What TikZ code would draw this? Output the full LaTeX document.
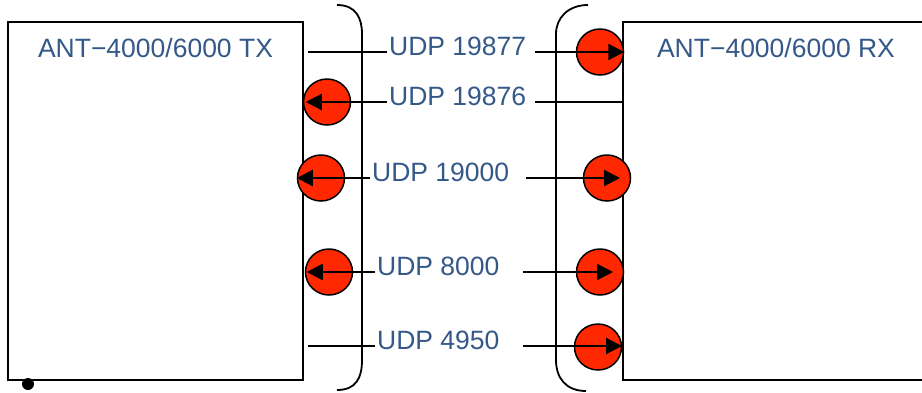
\documentclass[tikz,border=0pt]{standalone}
\usepackage{fontspec}
\setmainfont{Liberation Sans}
\usetikzlibrary{shapes.geometric,arrows.meta,calc}
\definecolor{udpblue}{RGB}{52,88,135}
\definecolor{portred}{RGB}{255,40,0}

\begin{document}
\begin{tikzpicture}[x=1pt,y=-1pt]
  \tikzstyle{box} = [rectangle,draw=black,line width=2pt,inner sep=0pt]
  \tikzstyle{devname} = [font=\fontsize{26.5}{30}\selectfont,color=udpblue,anchor=base]
  \tikzstyle{udp} = [font=\fontsize{26.5}{30}\selectfont,color=udpblue,anchor=west,
  inner sep=2pt,text height=10pt,text depth=4pt]
  \tikzstyle{port} = [ellipse,draw=black,fill=portred,line width=1.5pt,
  minimum width=47pt,minimum height=46pt,inner sep=0pt]
  \tikzstyle{wire} = [line width=2.2pt]
  \tikzstyle{ref} = [wire,-{Triangle[length=16pt,width=16pt]}]
  \tikzstyle{bracket} = [line width=1.8pt]

  \useasboundingbox (0,0) rectangle (922,392);

  % the two devices
  \node[box,minimum width=295pt,minimum height=358pt] (tx) at (155.5,201) {};
  \node[box,minimum width=320pt,minimum height=358pt] (rx) at (783,201) {};
  \node[devname] (txname) at (155.5,57) {ANT−4000/6000 TX};
  \node[devname] (rxname) at (776,57) {ANT−4000/6000 RX};
  \node[circle,fill=black,minimum size=12pt,inner sep=0pt] (dot) at (28,384) {};

  % brackets
  \draw[bracket] (337,5) .. controls (356,5) and (362,18) .. (362,34)
  -- (362,360) .. controls (362,378) and (356,390) .. (337,390);
  \draw[bracket] (588,5) .. controls (568,5) and (556,18) .. (556,34)
  -- (556,360) .. controls (556,378) and (566,391) .. (586,391);

  % ports
  \node[port] (r1) at (600,52) {};
  \node[port] (l2) at (327,102) {};
  \node[port] (l3) at (321,178) {};
  \node[port] (r3) at (607,178) {};
  \node[port] (l4) at (329,272) {};
  \node[port] (r4) at (600,272) {};
  \node[port] (r5) at (598,347) {};

  \node[udp] (u1) at (387,52) {UDP 19877};
  \node[udp] (u2) at (387,102) {UDP 19876};
  \node[udp] (u3) at (370,178) {UDP 19000};
  \node[udp] (u4) at (375,272) {UDP 8000};
  \node[udp] (u5) at (375,346) {UDP 4950};

  \coordinate (s1) at (535,52);
  \coordinate (s2) at (535,102);
  \coordinate (s3) at (526,178);
  \coordinate (s4) at (523,272);
  \coordinate (s5) at (523,346);

  \draw[wire] ($(tx.east |- u1.west)+(4,0)$) -- (u1.west);
  \draw[ref] (s1) -- (r1.east);
  \draw[ref] (u2.west) -- ([xshift=3pt]l2.west);
  \draw[wire] (s2) -- (rx.west |- s2);
  \draw[ref] (u3.west) -- (l3.west);
  \draw[ref] (s3) -- ([xshift=13pt]r3.center);
  \draw[ref] (u4.west) -- ([xshift=2pt]l4.west);
  \draw[ref] (s4) -- ([xshift=13pt]r4.center);
  \draw[wire] ($(tx.east |- u5.west)+(4,0)$) -- (u5.west);
  \draw[ref] (s5) -- (rx.west |- s5);

\end{tikzpicture}
\end{document}
